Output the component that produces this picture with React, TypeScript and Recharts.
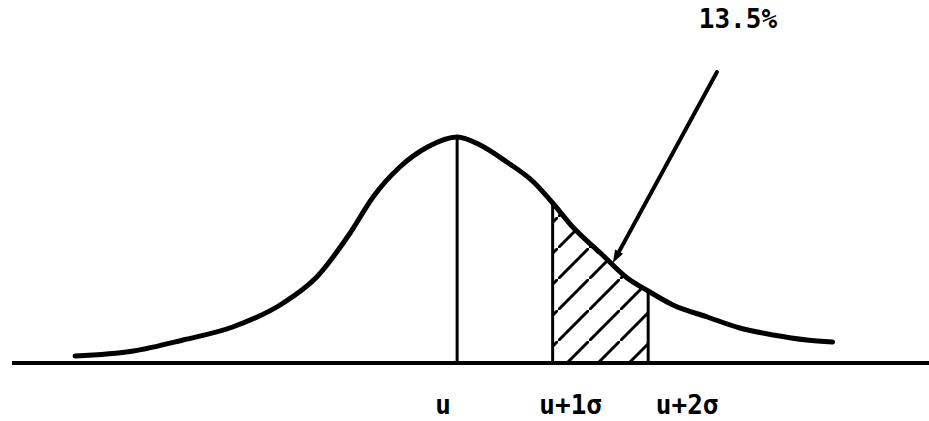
import React from 'react';
import { ComposedChart, Line, Area, XAxis, YAxis, ReferenceLine } from 'recharts';

// positions along the axis, in standard deviations from the mean
const sigmaPositions = [-4.0, -3.39, -2.87, -2.35, -1.82, -1.47, -1.12, -0.88, -0.6, -0.31, 0, 0.24, 0.52, 0.8, 1.0, 1.21, 1.5, 1.78, 2.0, 2.26, 2.62, 2.96, 3.31, 3.66, 3.93];
// curve height (arbitrary units)
const curveHeights = [7, 12, 23, 36, 60, 86, 130, 166, 196, 216, 226, 218, 201, 181, 160, 136, 110, 85, 72, 58, 46, 35, 28, 23, 21];
const tickValues = [0, 1, 2];
const tickLabels = ['u', 'u+1σ', 'u+2σ'];
const shadeFrom = 1;
const shadeTo = 2;
const calloutText = '13.5%';
const arrowStart = { x: 2.72, y: 291 };
const arrowEnd = { x: 1.63, y: 100 };

const data = sigmaPositions.map((s, i) => ({
  s,
  h: curveHeights[i],
  shade: s >= shadeFrom && s <= shadeTo ? curveHeights[i] : null,
}));

const heightAt = (s: number) => {
  const i = sigmaPositions.indexOf(s);
  return i >= 0 ? curveHeights[i] : 0;
};

const FONT = '"DejaVu Sans Mono", monospace';
const tickShift = [-14, 18, 39];

const Tick = (props: any) => {
  const { x, y, index } = props;
  return (
    <text x={x + tickShift[index]} y={y + 43} textAnchor="middle" fontFamily={FONT} fontWeight="bold" fontSize={26} fill="#000">
      {tickLabels[index]}
    </text>
  );
};

const ArrowShape = (props: any) => {
  const { x1, y1, x2, y2 } = props;
  const dx = x2 - x1;
  const dy = y2 - y1;
  const len = Math.sqrt(dx * dx + dy * dy);
  const ux = dx / len;
  const uy = dy / len;
  const hl = 13;
  const hw = 4.5;
  const bx = x2 - ux * hl;
  const by = y2 - uy * hl;
  const pts = `${x2},${y2} ${bx - uy * hw},${by + ux * hw} ${bx + uy * hw},${by - ux * hw}`;
  return (
    <g>
      <line x1={x1} y1={y1} x2={bx} y2={by} stroke="#000" strokeWidth={4} strokeLinecap="round" />
      <polygon points={pts} fill="#000" />
      <text x={x1 + 21} y={y1 - 44} textAnchor="middle" fontFamily={FONT} fontWeight="bold" fontSize={26} fill="#000">
        {calloutText}
      </text>
    </g>
  );
};

export default function App() {
  return (
    <div style={{ position: 'absolute', left: 0, top: 0, width: 929, height: 421, background: '#fff' }}>
      <ComposedChart width={929} height={421} data={data} margin={{ top: 0, right: 0, bottom: 0, left: 12 }}>
        <defs>
          <pattern id="hatch" patternUnits="userSpaceOnUse" width={31} height={31}>
            <line x1={-4} y1={35} x2={35} y2={-4} stroke="#000" strokeWidth={3} />
          </pattern>
        </defs>
        <XAxis
          dataKey="s"
          type="number"
          domain={[-4.66, 4.94]}
          allowDataOverflow
          ticks={tickValues}
          tick={<Tick />}
          tickLine={false}
          axisLine={{ stroke: '#000', strokeWidth: 4 }}
          height={58}
          interval={0}
        />
        <YAxis hide domain={[0, 363]} allowDataOverflow />
        <Area
          dataKey="shade"
          type="monotone"
          stroke="none"
          fill="url(#hatch)"
          fillOpacity={1}
          isAnimationActive={false}
          connectNulls={false}
          dot={false}
          activeDot={false}
        />
        {tickValues.map((t) => (
          <ReferenceLine
            key={t}
            segment={[{ x: t, y: 0 }, { x: t, y: heightAt(t) }]}
            stroke="#000"
            strokeWidth={3}
            ifOverflow="visible"
          />
        ))}
        <Line
          dataKey="h"
          type="monotone"
          stroke="#000"
          strokeWidth={5}
          strokeLinecap="round"
          dot={false}
          activeDot={false}
          isAnimationActive={false}
        />
        <ReferenceLine
          segment={[arrowStart, arrowEnd]}
          ifOverflow="visible"
          shape={<ArrowShape />}
        />
      </ComposedChart>
    </div>
  );
}
